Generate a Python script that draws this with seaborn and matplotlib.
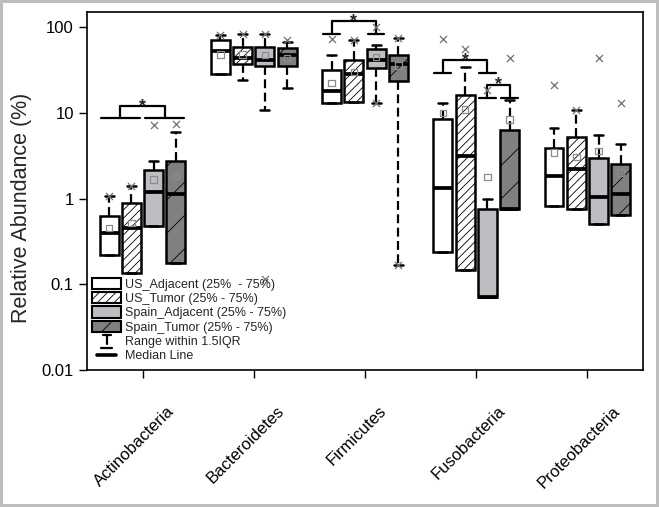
import matplotlib
matplotlib.use("Agg")
import matplotlib.pyplot as plt
import matplotlib.transforms as mtransforms
import pandas as pd
import seaborn as sns
from matplotlib.patches import Patch
from matplotlib.lines import Line2D
from matplotlib.legend_handler import HandlerBase
from matplotlib.ticker import NullLocator

# --- data (rows follow `series`, columns follow `phyla`) ---
phyla = ["Actinobacteria", "Bacteroidetes", "Firmicutes", "Fusobacteria", "Proteobacteria"]
series = ["US_Adjacent", "US_Tumor", "Spain_Adjacent", "Spain_Tumor"]

q1 = [[0.22, 28.8, 13.1, 0.24, 0.82],
      [0.134, 37.0, 13.4, 0.146, 0.75],
      [0.48, 35.3, 33.5, 0.071, 0.50],
      [0.18, 35.1, 23.6, 0.75, 0.65]]
median = [[0.40, 52.9, 17.9, 1.33, 1.82],
          [0.46, 43.9, 28.1, 3.15, 2.19],
          [1.20, 42.0, 42.0, 0.071, 1.05],
          [1.13, 48.0, 37.7, 0.75, 1.12]]
q3 = [[0.63, 70.5, 31.3, 8.6, 3.95],
      [0.88, 58.9, 42.0, 16.1, 5.25],
      [2.14, 58.9, 56.4, 0.75, 2.98],
      [2.75, 56.9, 48.0, 6.4, 2.57]]
whis_low = [[0.22, 28.8, 13.1, 0.24, 0.82],
            [0.134, 23.9, 13.4, 0.146, 0.75],
            [0.48, 10.96, 12.9, 0.071, 0.50],
            [0.18, 19.3, 0.167, 0.75, 0.65]]
whis_high = [[1.07, 80.7, 48.0, 12.9, 6.68],
             [1.40, 84.4, 71.8, 34.4, 10.96],
             [2.73, 82.8, 61.6, 0.98, 5.5],
             [6.0, 67.3, 75.0, 14.1, 4.4]]
means = [[0.455, 48.0, 22.4, 10.0, 3.45],
         [0.52, 48.0, 30.1, 11.0, 3.07],
         [1.68, 47.6, 45.0, 1.79, 3.6],
         [1.84, 43.9, 36.0, 8.44, 2.02]]
outliers = [[[1.07], [80.7], [73.8], [73.8], [21.0]],
            [[1.40], [84.4], [71.8], [56.4], [10.96]],
            [[7.3], [82.8, 0.117], [100.0, 12.9], [18.4], [44.3]],
            [[7.5], [70.5], [75.0, 0.167], [44.3], [12.9]]]

# significance brackets: (phylum, left boxes, right boxes, arm height, top height)
brackets = [(0, [0, 1], [2, 3], 8.7, 12.0),
            (2, [0], [2], 82.8, 117.5),
            (3, [0], [2], 29.3, 41.2),
            (3, [2], [3], 15.1, 21.4)]

legend_labels = ["US_Adjacent (25%  - 75%)", "US_Tumor (25% - 75%)",
                 "Spain_Adjacent (25% - 75%)", "Spain_Tumor (25% - 75%)",
                 "Range within 1.5IQR", "Median Line"]

# --- styling ---
offsets = [-0.3, -0.1, 0.1, 0.3]
fills = ["white", "white", "#bdbec1", "#808080"]
hatches = [None, "////", None, "/"]

sns.set_style("ticks")
plt.rcParams["font.family"] = ["Liberation Sans", "DejaVu Sans"]
plt.rcParams["hatch.linewidth"] = 0.6
plt.rcParams["hatch.color"] = "black"


class RangeKey:
    pass


class MedianKey:
    pass


class RangeHandler(HandlerBase):
    def create_artists(self, legend, orig_handle, xdescent, ydescent,
                       width, height, fontsize, trans):
        cx = -xdescent + width / 2
        y0 = -ydescent
        top = y0 + height
        arts = [Line2D([cx - 3, cx + 3], [top, top], color="black", lw=1.6),
                Line2D([cx, cx], [top, y0 + 0.25 * height], color="black", lw=1.6),
                Line2D([cx - 4, cx + 4], [y0 - 1, y0 - 1], color="black", lw=1.6)]
        for a in arts:
            a.set_transform(trans)
        return arts


class MedianHandler(HandlerBase):
    def create_artists(self, legend, orig_handle, xdescent, ydescent,
                       width, height, fontsize, trans):
        cx = -xdescent + width / 2
        cy = -ydescent + height / 2
        line = Line2D([cx - 7, cx + 7], [cy, cy], color="black", lw=2.6)
        line.set_transform(trans)
        return [line]


fig = plt.figure(figsize=(6.59, 5.07), dpi=100, edgecolor="#bdbdbd", linewidth=4)
ax = fig.add_axes([0.132, 0.270, 0.8437, 0.7061])

# boxes, one series at a time
for i in range(len(series)):
    stats = []
    for j in range(len(phyla)):
        stats.append(dict(q1=q1[i][j], med=median[i][j], q3=q3[i][j],
                          whislo=whis_low[i][j], whishi=whis_high[i][j], fliers=[]))
    pos = [j + offsets[i] for j in range(len(phyla))]
    ax.bxp(stats, positions=pos, widths=0.17, capwidths=0.08, patch_artist=True,
           showfliers=False, manage_ticks=False,
           boxprops=dict(facecolor=fills[i], edgecolor="black", linewidth=1.8,
                         hatch=hatches[i]),
           whiskerprops=dict(color="black", linewidth=1.6, linestyle=(0, (4, 2))),
           capprops=dict(color="black", linewidth=1.8),
           medianprops=dict(color="black", linewidth=2.7))

# means and outliers through seaborn
mean_rows, out_rows = [], []
for i in range(len(series)):
    for j in range(len(phyla)):
        mean_rows.append({"x": j + offsets[i], "y": means[i][j]})
        for v in outliers[i][j]:
            out_rows.append({"x": j + offsets[i], "y": v})
mean_df = pd.DataFrame(mean_rows)
out_df = pd.DataFrame(out_rows)

sns.scatterplot(data=mean_df, x="x", y="y", marker="s", s=22, facecolor="none",
                edgecolor="#8c8c8c", linewidth=0.9, zorder=4, legend=False, ax=ax)
sns.scatterplot(data=out_df, x="x", y="y", marker="x", s=26, color="#707070",
                linewidth=0.9, zorder=4, legend=False, ax=ax)

# significance brackets
for p, left, right, arm, top in brackets:
    lx0 = p + offsets[left[0]] - 0.075
    lx1 = p + offsets[left[-1]] + 0.075
    rx0 = p + offsets[right[0]] - 0.075
    rx1 = p + offsets[right[-1]] + 0.075
    lc = (lx0 + lx1) / 2
    rc = (rx0 + rx1) / 2
    ax.plot([lx0, lx1], [arm, arm], color="black", lw=1.6)
    ax.plot([rx0, rx1], [arm, arm], color="black", lw=1.6)
    ax.plot([lc, lc, rc, rc], [arm, top, top, arm], color="black", lw=1.6)
    ax.annotate("*", xy=((lc + rc) / 2, top), ha="center", va="center",
                fontsize=13, fontweight="bold")

# axes
ax.set_yscale("log")
ax.set_ylim(0.01, 150)
ax.set_xlim(-0.5, 4.5)
ax.set_yticks([0.01, 0.1, 1, 10, 100])
ax.set_yticklabels(["0.01", "0.1", "1", "10", "100"])
ax.yaxis.set_minor_locator(NullLocator())
ax.set_xticks(range(len(phyla)))
ax.set_xticklabels(phyla, rotation=45, ha="center")
ax.tick_params(axis="both", direction="out", length=6, width=1.0, labelsize=12,
               color="black", labelcolor="black")
ax.tick_params(axis="x", pad=18)
shift = mtransforms.ScaledTranslation(-0.08, 0, fig.dpi_scale_trans)
for lab in ax.get_xticklabels():
    lab.set_transform(lab.get_transform() + shift)
for sp in ax.spines.values():
    sp.set_linewidth(1.2)
    sp.set_color("black")
ax.set_xlabel("")
ax.set_ylabel("Relative Abundance (%)", fontsize=15.5)
ax.yaxis.set_label_coords(-0.099, 0.454)

# legend
handles = [Patch(facecolor=fills[i], edgecolor="black", linewidth=1.5, hatch=hatches[i])
           for i in range(len(series))]
handles += [RangeKey(), MedianKey()]
ax.legend(handles, legend_labels, handler_map={RangeKey: RangeHandler(),
                                               MedianKey: MedianHandler()},
          loc="upper left", bbox_to_anchor=(0.009, 0.258), frameon=False,
          fontsize=9, borderpad=0, borderaxespad=0, handlelength=2.35,
          handleheight=1.0, handletextpad=0.3, labelspacing=0.12)

fig.savefig("out.png", dpi=100)
